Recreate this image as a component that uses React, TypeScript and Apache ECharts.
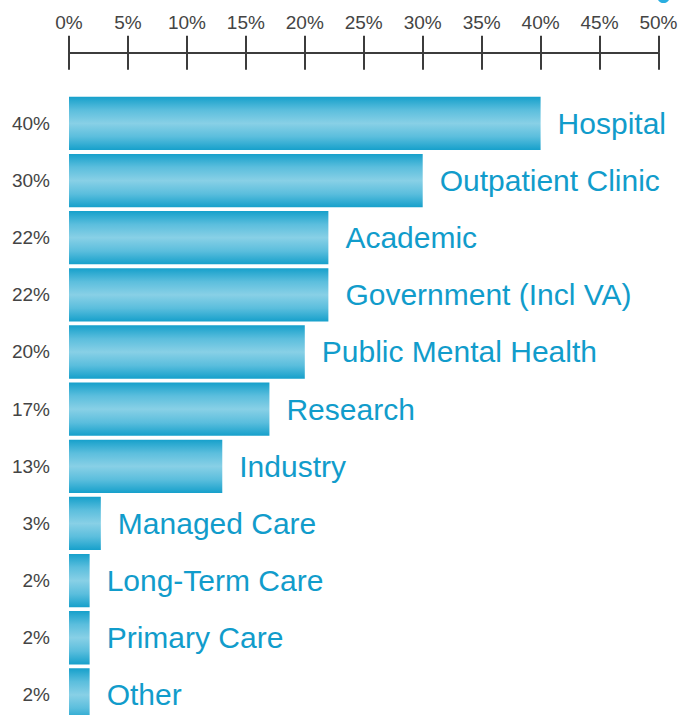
import React, { useEffect, useRef } from "react";
import * as echarts from "echarts";

const categories = [
  "Hospital",
  "Outpatient Clinic",
  "Academic",
  "Government (Incl VA)",
  "Public Mental Health",
  "Research",
  "Industry",
  "Managed Care",
  "Long-Term Care",
  "Primary Care",
  "Other",
];
const values = [40, 30, 22, 22, 20, 17, 13, 2.7, 1.75, 1.75, 1.75];
const pctLabels = ["40%", "30%", "22%", "22%", "20%", "17%", "13%", "3%", "2%", "2%", "2%"];

const FONT = "'Liberation Sans', Arial, Helvetica, sans-serif";

export default function App() {
  const ref = useRef<HTMLDivElement>(null);
  useEffect(() => {
    if (!ref.current) return;
    const chart = echarts.init(ref.current, null, { renderer: "svg" });
    const grad = new echarts.graphic.LinearGradient(0, 0, 0, 1, [
      { offset: 0, color: "#16a0cb" },
      { offset: 0.25, color: "#5bbedd" },
      { offset: 0.5, color: "#88d0e6" },
      { offset: 0.75, color: "#5bbedd" },
      { offset: 1, color: "#16a0cb" },
    ]);
    const axisCommon = {
      type: "value" as const,
      position: "top" as const,
      min: 0,
      max: 50,
      interval: 5,
      offset: 42,
      splitLine: { show: false },
      axisLine: { show: true, lineStyle: { color: "#3c3c3c", width: 2 } },
    };
    chart.setOption({
      animation: false,
      textStyle: { fontFamily: FONT },
      grid: {
        left: 69,
        right: 30.5,
        top: 94.8,
        bottom: -8.5,
        containLabel: false,
        outerBoundsMode: "none",
      },
      xAxis: [
        {
          ...axisCommon,
          axisTick: { show: true, length: 17, inside: false, lineStyle: { color: "#3c3c3c", width: 2 } },
          axisLabel: {
            show: true,
            formatter: (v: number) => v + "%",
            color: "#444444",
            fontSize: 19,
            fontFamily: FONT,
            margin: 21,
          },
        },
        {
          ...axisCommon,
          axisTick: { show: true, length: 17, inside: true, lineStyle: { color: "#3c3c3c", width: 2 } },
          axisLabel: { show: false },
        },
      ],
      yAxis: {
        type: "category",
        inverse: true,
        data: categories,
        axisLine: { show: false },
        axisTick: { show: false },
        axisLabel: {
          show: true,
          margin: 19,
          color: "#444444",
          fontSize: 19,
          fontFamily: FONT,
          formatter: (_v: string, i: number) => pctLabels[i],
        },
      },
      series: [
        {
          type: "bar",
          xAxisIndex: 0,
          data: values,
          barWidth: 53.3,
          itemStyle: { color: grad },
          label: {
            show: true,
            position: "right",
            distance: 17,
            color: "#119ccb",
            fontSize: 30,
            fontFamily: FONT,
            formatter: (p: any) => categories[p.dataIndex],
          },
        },
      ],
      graphic: [
        {
          type: "circle",
          shape: { cx: 663.5, cy: -3.5, r: 6.5 },
          style: { fill: "#2aaee0" },
        },
      ],
    });
    return () => chart.dispose();
  }, []);
  return (
    <div
      ref={ref}
      style={{ position: "fixed", left: 0, top: 0, width: 689, height: 715, background: "#ffffff" }}
    />
  );
}
